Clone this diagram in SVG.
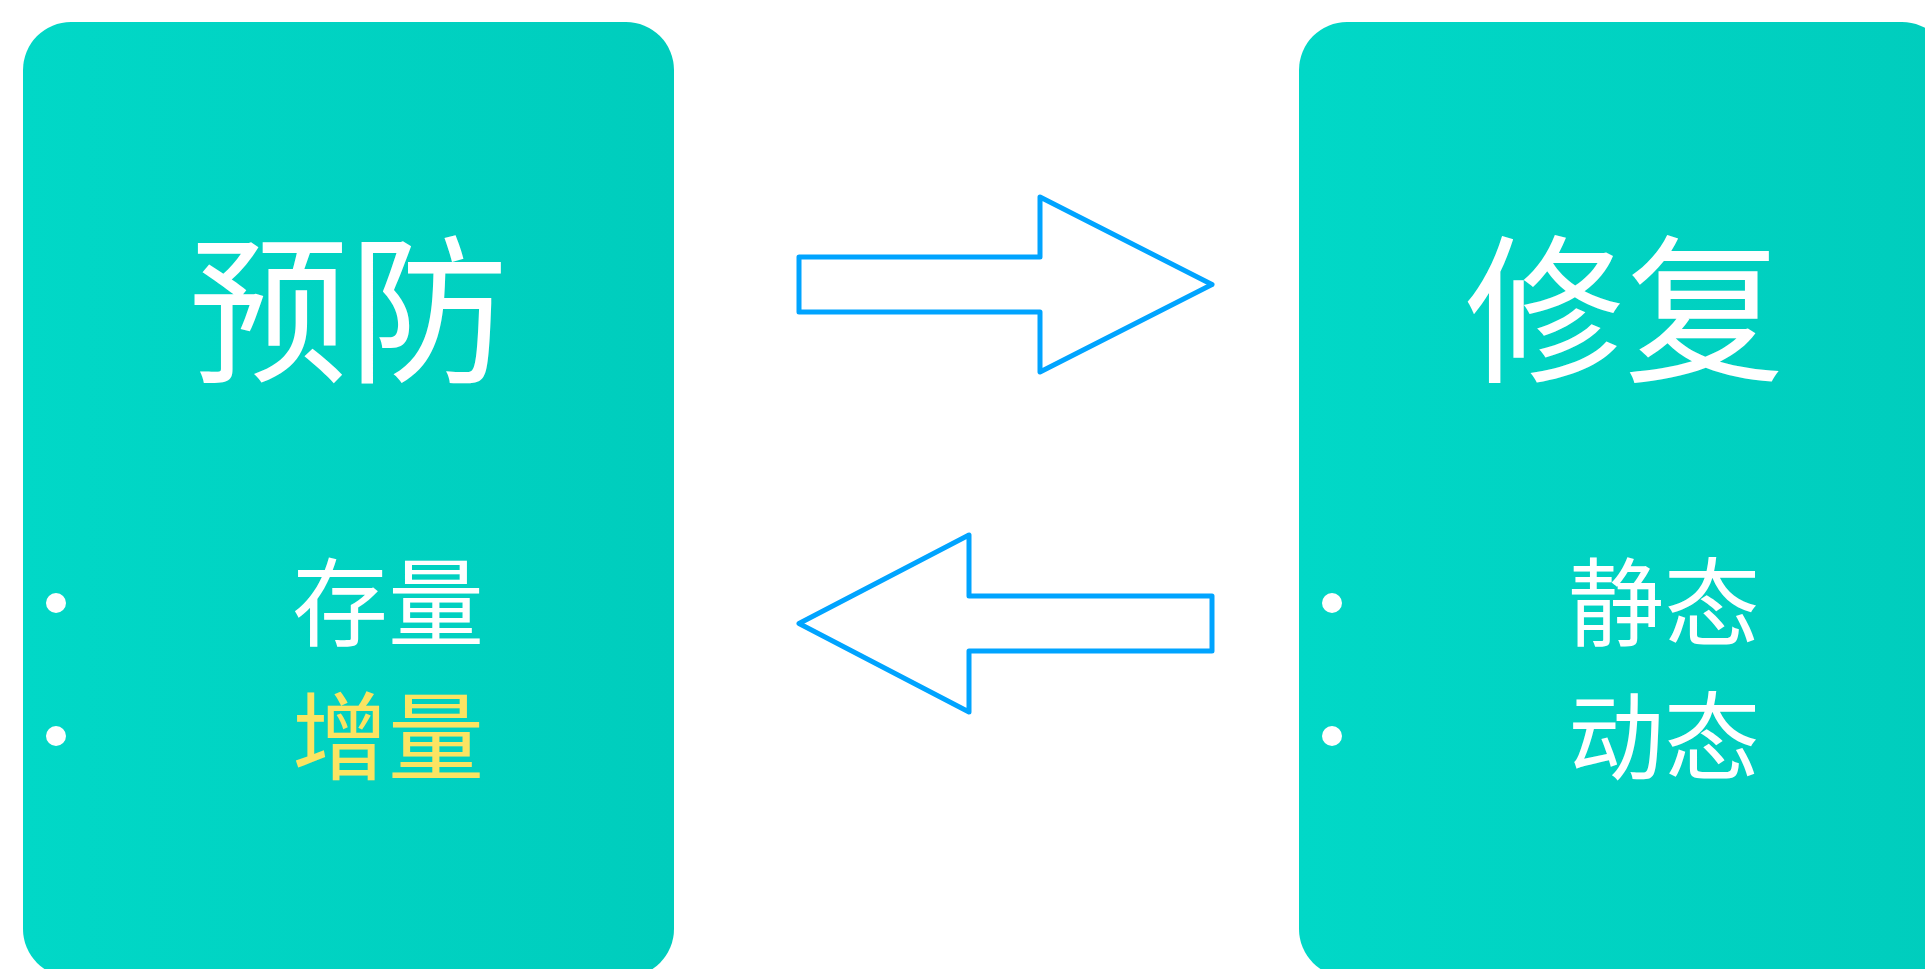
<svg xmlns="http://www.w3.org/2000/svg" width="1925" height="969" viewBox="0 0 1925 969">
  <defs>
    <linearGradient id="boxGrad" x1="0" y1="0" x2="1" y2="0">
      <stop offset="0" stop-color="#01D8C7"/>
      <stop offset="1" stop-color="#00CDBD"/>
    </linearGradient>
    <style>
      .box { fill: url(#boxGrad); }
      .title { font-family: "Noto Sans CJK SC", "Noto Sans", sans-serif; font-size: 160px; fill: #FFFFFF; text-anchor: middle; }
      .item { font-family: "Noto Sans CJK SC", "Noto Sans", sans-serif; font-size: 96px; fill: #FFFFFF; }
      .hl { fill: #FBE462; }
      .dot { fill: #FFFFFF; }
      .arrow { fill: #FFFFFF; stroke: #00A4FF; stroke-width: 5; stroke-linejoin: round; }
    </style>
  </defs>
  <rect width="1925" height="969" fill="#FFFFFF"/>

  <g id="node-prevent">
    <rect class="box" x="23" y="22" width="651" height="955" rx="48" ry="48"/>
    <text class="title" x="348.5" y="370">预防</text>
    <circle class="dot" cx="56" cy="603" r="10"/>
    <text class="item" x="292" y="638">存量</text>
    <circle class="dot hl" cx="56" cy="736" r="10"/>
    <text class="item hl" x="292" y="772">增量</text>
  </g>

  <g id="node-repair">
    <rect class="box" x="1299" y="22" width="651" height="955" rx="48" ry="48"/>
    <text class="title" x="1624.5" y="370">修复</text>
    <circle class="dot" cx="1332" cy="603" r="10"/>
    <text class="item" x="1568" y="638">静态</text>
    <circle class="dot" cx="1332" cy="736" r="10"/>
    <text class="item" x="1568" y="772">动态</text>
  </g>

  <g id="connectors">
    <path class="arrow" d="M799,257 L1040,257 L1040,197 L1212,284.5 L1040,372 L1040,312 L799,312 Z"/>
    <path class="arrow" d="M799,623.5 L969,535 L969,596 L1212,596 L1212,651 L969,651 L969,712 Z"/>
  </g>
</svg>
